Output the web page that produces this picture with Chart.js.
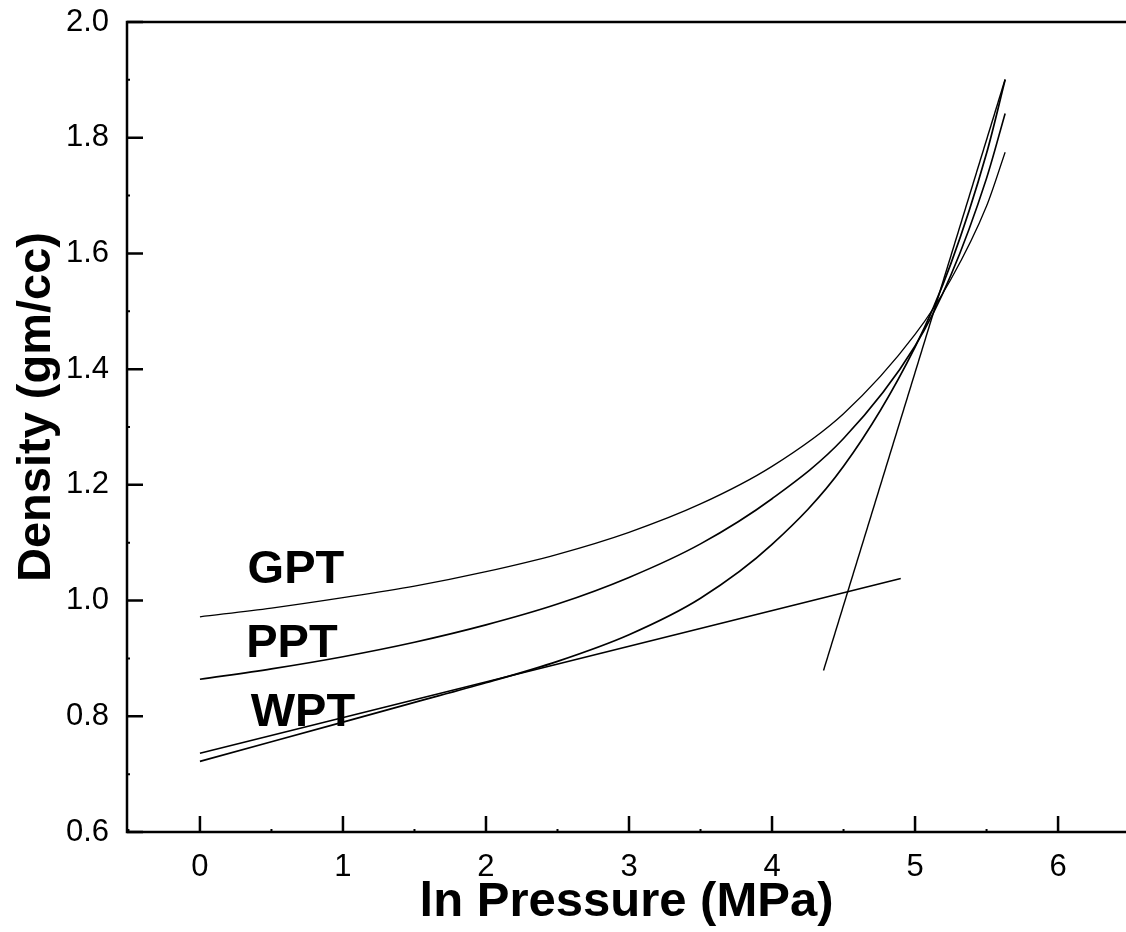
<!DOCTYPE html>
<html>
<head>
<meta charset="utf-8">
<script src="https://cdn.jsdelivr.net/npm/chart.js@4/dist/chart.umd.min.js"></script>
<style>
  html, body { margin: 0; padding: 0; background: #fff; }
  canvas { display: block; }
</style>
</head>
<body>
<canvas id="myChart" width="1126" height="932"></canvas>
<script>
// ln Pressure values where the curves were read
const presiones = [0, 0.5, 1, 1.5, 2, 2.5, 3, 3.5, 4, 4.5, 5, 5.25, 5.5, 5.63];
const densidadGPT = [0.972, 0.987, 1.005, 1.025, 1.05, 1.08, 1.118, 1.167, 1.232, 1.323, 1.46, 1.555, 1.682, 1.775];
const densidadPPT = [0.864, 0.882, 0.903, 0.928, 0.958, 0.994, 1.04, 1.098, 1.176, 1.28, 1.44, 1.562, 1.73, 1.842];
const densidadWPT = [0.722, 0.756, 0.79, 0.824, 0.858, 0.895, 0.941, 1.004, 1.097, 1.232, 1.438, 1.582, 1.773, 1.9];

// the two straight lines
const rectaBajaX = [0, 4.9];
const rectaBajaY = [0.736, 1.038];
const rectaAltaX = [4.36, 5.63];
const rectaAltaY = [0.879, 1.901];

// text labels on the curves
const etiquetas = ["GPT", "PPT", "WPT"];
const etiquetasX = [0.671, 0.643, 0.72];
const etiquetasY = [1.053, 0.925, 0.806];

const fuente = "'Liberation Sans', Arial, Helvetica, sans-serif";

const puntos = (xs, ys) => xs.map((x, i) => ({ x: x, y: ys[i] }));

function serie(xs, ys, ancho, curva) {
  return {
    data: puntos(xs, ys),
    showLine: true,
    borderColor: "#000",
    borderWidth: ancho,
    pointRadius: 0,
    fill: false,
    cubicInterpolationMode: curva ? "monotone" : "default",
    tension: 0,
  };
}

// frame, inward ticks, y title and curve names
const ejesPlugin = {
  id: "ejes",
  afterDraw(chart) {
    const { ctx, chartArea, scales } = chart;
    const { left, top, right, bottom } = chartArea;
    const sx = scales.x;
    const sy = scales.y;
    ctx.save();
    ctx.strokeStyle = "#000";
    ctx.lineWidth = 2.5;
    ctx.beginPath();
    ctx.moveTo(right, top);
    ctx.lineTo(left, top);
    ctx.lineTo(left, bottom);
    ctx.lineTo(right, bottom);
    ctx.stroke();

    ctx.beginPath();
    sx.ticks.forEach((t) => {
      const px = sx.getPixelForValue(t.value);
      ctx.moveTo(px, bottom);
      ctx.lineTo(px, bottom - 16);
    });
    sy.ticks.forEach((t) => {
      const py = sy.getPixelForValue(t.value);
      ctx.moveTo(left, py);
      ctx.lineTo(left + 16, py);
    });
    ctx.stroke();

    // minor ticks
    ctx.lineWidth = 2;
    ctx.beginPath();
    for (let v = -0.5; v <= sx.max; v += 1) {
      const px = sx.getPixelForValue(v);
      ctx.moveTo(px, bottom);
      ctx.lineTo(px, bottom - 3);
    }
    for (let v = 0.7; v < sy.max; v += 0.2) {
      const py = sy.getPixelForValue(v);
      ctx.moveTo(left, py);
      ctx.lineTo(left + 3, py);
    }
    ctx.stroke();

    ctx.fillStyle = "#000";
    ctx.textAlign = "center";
    ctx.textBaseline = "middle";

    // y axis title (sits a bit above the middle of the axis)
    ctx.save();
    ctx.translate(37, 407);
    ctx.rotate(-Math.PI / 2);
    ctx.font = "bold 47px " + fuente;
    ctx.fillText("Density (gm/cc)", 0, 0);
    ctx.restore();

    // curve names
    ctx.font = "bold 47px " + fuente;
    etiquetas.forEach((txt, i) => {
      ctx.fillText(txt, sx.getPixelForValue(etiquetasX[i]), sy.getPixelForValue(etiquetasY[i]));
    });
    ctx.restore();
  },
};

const ctx = document.getElementById("myChart").getContext("2d");

const config = {
  type: "scatter",
  data: {
    datasets: [
      serie(presiones, densidadGPT, 1.3, true),
      serie(presiones, densidadPPT, 1.6, true),
      serie(presiones, densidadWPT, 1.7, true),
      serie(rectaBajaX, rectaBajaY, 1.6, false),
      serie(rectaAltaX, rectaAltaY, 1.4, false),
    ],
  },
  options: {
    responsive: false,
    animation: false,
    layout: { padding: { top: 22, right: 0, left: 0, bottom: 0 } },
    plugins: {
      legend: { display: false },
      tooltip: { enabled: false },
    },
    scales: {
      x: {
        type: "linear",
        min: -0.51,
        max: 6.475,
        grid: { display: false, drawTicks: false },
        border: { display: false },
        ticks: {
          stepSize: 1,
          includeBounds: false,
          padding: 17,
          maxRotation: 0,
          color: "#000",
          font: { family: fuente, size: 31 },
          callback: (v) => String(v),
        },
        title: {
          display: true,
          text: "ln Pressure (MPa)",
          color: "#000",
          font: { family: fuente, size: 49, weight: "bold" },
          padding: { top: 0, bottom: 0 },
        },
        afterFit(scale) {
          scale.height = 100;
          scale.paddingLeft = 0;
          scale.paddingRight = 0;
        },
      },
      y: {
        type: "linear",
        min: 0.6,
        max: 2.0,
        grid: { display: false, drawTicks: false },
        border: { display: false },
        ticks: {
          stepSize: 0.2,
          padding: 18,
          color: "#000",
          font: { family: fuente, size: 31 },
          callback: (v) => v.toFixed(1),
        },
        afterFit(scale) {
          scale.width = 127;
          scale.paddingTop = 0;
          scale.paddingBottom = 0;
        },
      },
    },
  },
  plugins: [ejesPlugin],
};

const myChart = new Chart(ctx, config);
</script>
</body>
</html>
